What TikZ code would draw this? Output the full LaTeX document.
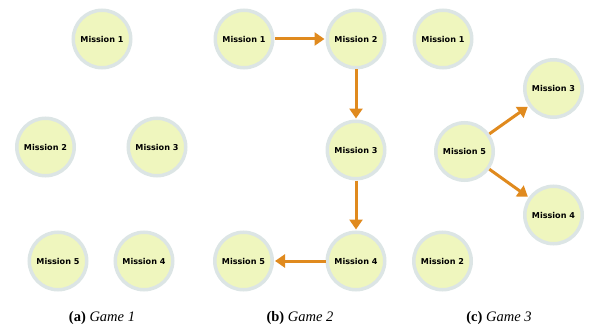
\documentclass[tikz,border=0pt]{standalone}
\usepackage{fontspec}
\setmainfont{Liberation Serif}
\newfontfamily\msfont{DejaVu Sans}
\usetikzlibrary{arrows.meta}
\definecolor{mfill}{HTML}{EFF6BE}
\definecolor{mring}{HTML}{DCE5E5}
\definecolor{arr}{HTML}{E08A1E}
\begin{document}
\begin{tikzpicture}[x=1pt,y=-1pt,
  mission/.style={circle, minimum size=57.5pt, inner sep=0pt, fill=mfill,
    draw=mring, line width=3.5pt,
    font=\msfont\bfseries\fontsize{8.1}{10}\selectfont},
  flow/.style={draw=arr, line width=3pt, -{Triangle[length=10pt,width=13pt]}, shorten >=1pt},
  captext/.style={font=\fontsize{14.5}{17}\selectfont}
]
\useasboundingbox (0,0) rectangle (589,329);
% Game 1
\node[mission] (a1) at (102,39) {Mission 1};
\node[mission] (a2) at (45.5,147) {Mission 2};
\node[mission] (a3) at (157,147) {Mission 3};
\node[mission] (a5) at (58,261) {Mission 5};
\node[mission] (a4) at (144,261) {Mission 4};
% Game 2
\node[mission] (b1) at (244,39) {Mission 1};
\node[mission] (b2) at (356,39) {Mission 2};
\node[mission] (b3) at (356,150) {Mission 3};
\node[mission] (b4) at (356,261) {Mission 4};
\node[mission] (b5) at (243.5,261) {Mission 5};
\draw[flow] (b1) -- (b2);
\draw[flow] (b2) -- (b3);
\draw[flow] (b3) -- (b4);
\draw[flow] (b4) -- (b5);
% Game 3
\node[mission] (c1) at (443,39) {Mission 1};
\node[mission] (c5) at (464.5,151.5) {Mission 5};
\node[mission] (c3) at (553.5,88.5) {Mission 3};
\node[mission] (c4) at (553.5,215) {Mission 4};
\node[mission] (c2) at (442.5,261) {Mission 2};
\draw[flow] (c5) -- (c3);
\draw[flow] (c5) -- (c4);
% captions
\node[captext] (ca) at (102,318) {\textbf{(a)} \textit{Game 1}};
\node[captext] (cb) at (300,318) {\textbf{(b)} \textit{Game 2}};
\node[captext] (cc) at (499,318) {\textbf{(c)} \textit{Game 3}};
\end{tikzpicture}
\end{document}
